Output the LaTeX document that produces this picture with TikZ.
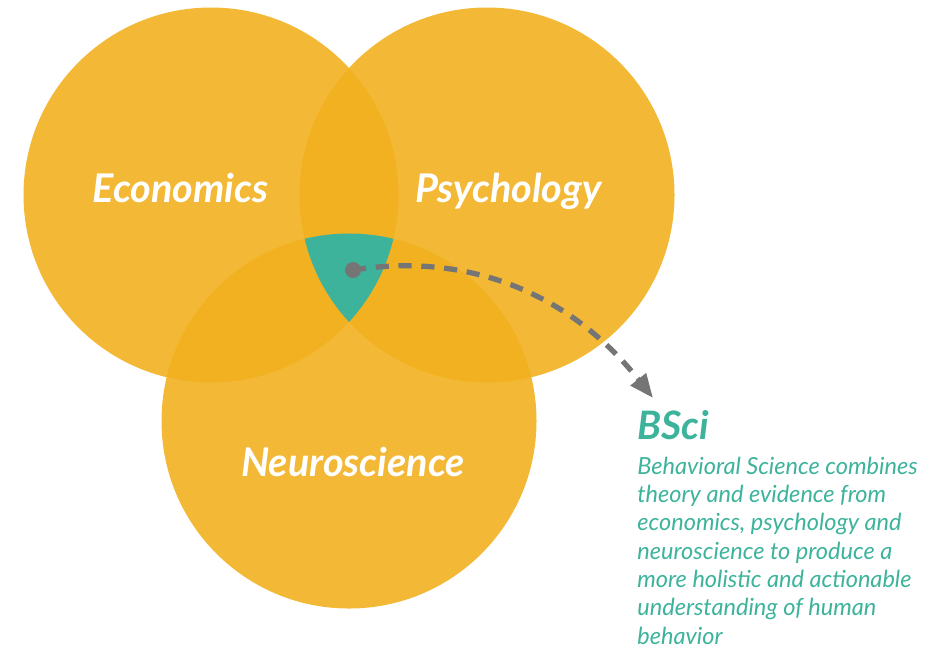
\documentclass[tikz,border=0pt]{standalone}
\usepackage{fontspec}
\setmainfont{Lato}
\usetikzlibrary{arrows.meta,positioning}
\definecolor{vennyellow}{RGB}{242,176,31}
\definecolor{bsgreen}{RGB}{61,179,156}
\definecolor{bsgrey}{RGB}{117,117,117}

\begin{document}
\begin{tikzpicture}[
  venncirc/.style={fill=vennyellow,fill opacity=0.9},
  vennlabel/.style={font=\fontsize{22.5}{27}\selectfont\bfseries\itshape,text=white,inner sep=0pt,anchor=base},
  bsdot/.style={circle,fill=bsgrey,minimum size=0.32cm,inner sep=0pt},
  bsarrow/.style={bsgrey,line width=3pt,dash pattern=on 7.5pt off 5.5pt,
    -{Triangle[length=13.6pt,width=10.7pt]}}
]
  \useasboundingbox (0,0) rectangle (18.86,-12.92);

  % the three fields
  \coordinate (econ) at (4.22,-3.90);
  \coordinate (psych) at (9.74,-3.90);
  \coordinate (neuro) at (6.98,-8.42);
  \fill[venncirc] (econ) circle (3.75);
  \fill[venncirc] (psych) circle (3.75);
  \fill[venncirc] (neuro) circle (3.75);

  % common core
  \begin{scope}
    \clip (econ) circle (3.75);
    \clip (psych) circle (3.75);
    \fill[bsgreen] (neuro) circle (3.75);
  \end{scope}

  \node[vennlabel] (econlbl) at (3.61,-4.04) {Economics};
  \node[vennlabel] (psychlbl) at (10.17,-4.04) {Psychology};
  \node[vennlabel] (neurolbl) at (7.06,-9.52) {Neuroscience};

  % pointer to the explanation
  \node[bsdot] (core) at (7.06,-5.40) {};
  \coordinate (tip) at (13.06,-7.96);
  \draw[bsarrow] (core.center) .. controls (9.6,-5.0) and (11.56,-6.06) .. (tip);

  \node[anchor=base west,inner sep=0pt,text=bsgreen,
    font=\fontsize{22.3}{26}\selectfont\bfseries\itshape] (bsci) at (12.74,-8.78) {BSci};
  % base of a multi-line node sits on its last line
  \node[anchor=base west,inner sep=0pt,text=bsgreen,align=left,
    font=\fontsize{13.4}{16.1}\selectfont\itshape] (bscitext) at (12.74,-12.88) {
    Behavioral Science combines\\
    theory and evidence from\\
    economics, psychology and\\
    neuroscience to produce a\\
    more holistic and actionable\\
    understanding of human\\
    behavior};
\end{tikzpicture}
\end{document}
